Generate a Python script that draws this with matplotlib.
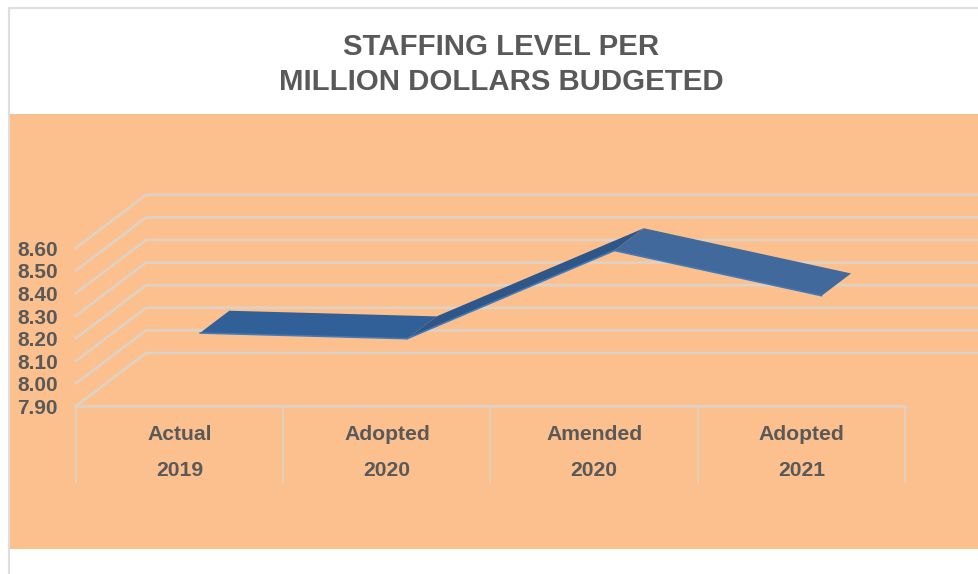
import matplotlib.pyplot as plt
from matplotlib.patches import Polygon, Rectangle

plt.rcParams['font.family'] = ['Liberation Sans', 'DejaVu Sans']

title_lines = ['STAFFING LEVEL PER', 'MILLION DOLLARS BUDGETED']
cat_top = ['Actual', 'Adopted', 'Amended', 'Adopted']
cat_bottom = ['2019', '2020', '2020', '2021']
values = [8.155, 8.13, 8.52, 8.32]
y_ticks = [7.90, 8.00, 8.10, 8.20, 8.30, 8.40, 8.50, 8.60]

TEXT = '#595959'
PANEL = '#fbc08e'
GRID = '#dfd2c4'
FRAME = '#dedede'

# layout of the fake 3D box, in pixels
X0 = 76
CAT_W = 207.25
Y0 = 406
PER_UNIT = 226.0
DEPTH_X = 70
DEPTH_Y = 53
RIBBON_NEAR = 0.29
RIBBON_FAR = 0.71


def project(cat, value, depth=0.0):
    # cat in category units, value in data units, depth 0 (front) to 1 (back)
    x = X0 + cat * CAT_W + depth * DEPTH_X
    y = Y0 - (value - y_ticks[0]) * PER_UNIT - depth * DEPTH_Y
    return x, y


fig = plt.figure(figsize=(9.79, 5.74), dpi=100, facecolor='white')
ax = fig.add_axes([0, 0, 1, 1])
ax.set_xlim(0, 979)
ax.set_ylim(574, 0)
ax.axis('off')

# frame and coloured panel
ax.plot([9, 9, 979], [574, 8, 8], color=FRAME, lw=1.6, zorder=1)
ax.add_patch(Rectangle((10, 114), 969, 435, facecolor=PANEL, edgecolor='none', zorder=1))

for i, line in enumerate(title_lines):
    ax.text(501, 47 + i * 35, line, ha='center', va='center', fontsize=21.2,
            fontweight='bold', color=TEXT)

# side wall diagonals, back wall gridlines and value labels
for tick in y_ticks:
    fx, fy = project(0, tick, 0)
    bx, by = project(0, tick, 1)
    ax.plot([fx, bx, 979], [fy, by, by], color=GRID, lw=1.9, zorder=2,
            solid_joinstyle='miter')
    ax.text(58, fy + 2.5, f'{tick:.2f}', ha='right', va='center', fontsize=15,
            fontweight='bold', color=TEXT)

# category axis
x_left, _ = project(0, y_ticks[0])
x_right, _ = project(len(values), y_ticks[0])
ax.plot([x_left, x_right], [Y0, Y0], color=GRID, lw=1.9, zorder=2)
for i in range(len(values) + 1):
    tx, _ = project(i, y_ticks[0])
    ax.plot([tx, tx], [Y0, 482], color=GRID, lw=1.3, zorder=2)

for i in range(len(values)):
    cx, _ = project(i + 0.5, y_ticks[0])
    ax.text(cx, 434, cat_top[i], ha='center', va='center', fontsize=15.2,
            fontweight='bold', color=TEXT)
    ax.text(cx, 471, cat_bottom[i], ha='center', va='center', fontsize=15.2,
            fontweight='bold', color=TEXT)

# ribbon line, one panel per segment; the rising one shows its darker side
seg_colors = ['#315f97', '#2f5688', '#41699c']
for i in range(len(values) - 1):
    a, b = values[i], values[i + 1]
    near_a = project(i + 0.5, a, RIBBON_NEAR)
    near_b = project(i + 1.5, b, RIBBON_NEAR)
    far_a = project(i + 0.5, a, RIBBON_FAR)
    far_b = project(i + 1.5, b, RIBBON_FAR)
    ax.add_patch(Polygon([near_a, near_b, far_b, far_a], closed=True,
                         facecolor=seg_colors[i], edgecolor='none', zorder=3))
    ax.plot([near_a[0], near_b[0]], [near_a[1], near_b[1]], color='#4279b8',
            lw=1.2, zorder=4, solid_capstyle='round')

fig.savefig('out.png', dpi=100)
